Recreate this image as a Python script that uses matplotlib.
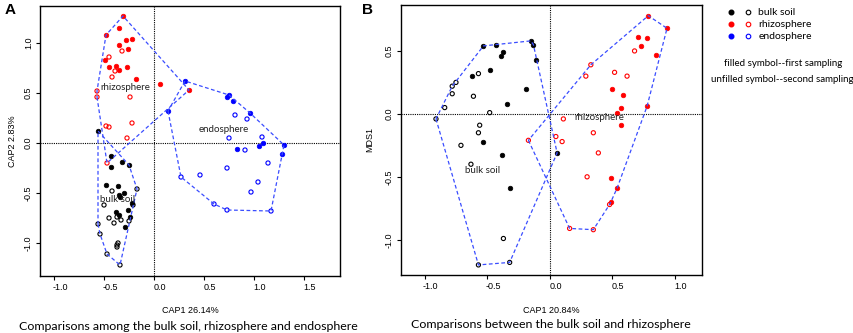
import numpy as np
import matplotlib
matplotlib.use("Agg")
import matplotlib.pyplot as plt
import matplotlib.transforms as mtransforms
from matplotlib.lines import Line2D
from matplotlib.legend_handler import HandlerTuple

# ---- Panel A data (CAP1 vs CAP2) ----
a_bulk_first_x = [-0.56, -0.43, -0.43, -0.32, -0.25, -0.48, -0.36, -0.35, -0.30, -0.34, -0.22, -0.26, -0.38, -0.24, -0.35, -0.29]
a_bulk_first_y = [0.12, -0.13, -0.24, -0.19, -0.22, -0.42, -0.43, -0.52, -0.50, -0.54, -0.60, -0.67, -0.69, -0.74, -0.72, -0.84]
a_bulk_second_x = [-0.17, -0.42, -0.50, -0.21, -0.45, -0.37, -0.33, -0.40, -0.25, -0.56, -0.54, -0.36, -0.37, -0.37, -0.47, -0.34]
a_bulk_second_y = [-0.46, -0.48, -0.62, -0.62, -0.75, -0.74, -0.77, -0.80, -0.78, -0.81, -0.91, -1.00, -1.04, -1.02, -1.11, -1.22]

a_rhizo_first_x = [-0.31, -0.48, -0.35, -0.35, -0.28, -0.22, -0.26, -0.49, -0.38, -0.45, -0.35, -0.27, -0.18, 0.06, 0.35]
a_rhizo_first_y = [1.27, 1.08, 1.15, 0.98, 1.03, 1.04, 0.94, 0.83, 0.77, 0.76, 0.73, 0.76, 0.64, 0.59, 0.53]
a_rhizo_second_x = [-0.32, -0.45, -0.39, -0.42, -0.57, -0.57, -0.24, -0.48, -0.45, -0.22, -0.27, -0.47]
a_rhizo_second_y = [0.92, 0.86, 0.72, 0.66, 0.52, 0.46, 0.46, 0.17, 0.16, 0.20, 0.05, -0.20]

a_endo_first_x = [0.31, 0.14, 0.75, 0.73, 0.79, 0.96, 0.83, 1.05, 1.09, 1.30, 1.28]
a_endo_first_y = [0.62, 0.32, 0.48, 0.46, 0.42, 0.30, -0.06, -0.03, 0.00, -0.02, -0.11]
a_endo_second_x = [0.81, 0.93, 0.75, 1.08, 0.91, 1.14, 0.73, 0.46, 0.27, 1.04, 0.97, 0.60, 0.73, 1.17]
a_endo_second_y = [0.28, 0.24, 0.05, 0.06, -0.07, -0.20, -0.25, -0.32, -0.34, -0.39, -0.49, -0.61, -0.67, -0.68]

# ---- Panel B data (CAP1 vs MDS1) ----
b_bulk_first_x = [-0.53, -0.43, -0.37, -0.39, -0.15, -0.13, -0.11, -0.48, -0.62, -0.19, -0.34, -0.53, -0.38, -0.32, 0.06]
b_bulk_first_y = [0.54, 0.55, 0.49, 0.46, 0.58, 0.55, 0.43, 0.35, 0.30, 0.20, 0.08, -0.22, -0.33, -0.59, -0.31]
b_bulk_second_x = [-0.57, -0.75, -0.78, -0.78, -0.61, -0.84, -0.48, -0.91, -0.56, -0.57, -0.71, -0.63, -0.37, -0.57, -0.32]
b_bulk_second_y = [0.32, 0.25, 0.22, 0.16, 0.14, 0.05, 0.01, -0.04, -0.09, -0.15, -0.25, -0.40, -0.99, -1.20, -1.18]

b_rhizo_first_x = [0.79, 0.94, 0.71, 0.78, 0.73, 0.85, 0.50, 0.59, 0.57, 0.54, 0.78, 0.57, 0.49, 0.54, 0.49]
b_rhizo_first_y = [0.78, 0.68, 0.61, 0.60, 0.54, 0.47, 0.20, 0.15, 0.05, 0.01, 0.06, -0.09, -0.51, -0.59, -0.70]
b_rhizo_second_x = [0.33, 0.68, 0.29, 0.52, 0.62, 0.11, -0.17, 0.05, 0.10, 0.35, 0.39, 0.30, 0.48, 0.16, 0.35]
b_rhizo_second_y = [0.39, 0.50, 0.30, 0.33, 0.30, -0.04, -0.21, -0.18, -0.22, -0.15, -0.31, -0.50, -0.72, -0.91, -0.92]

groups = ["bulk soil", "rhizosphere", "endosphere"]
colors = {"bulk soil": "black", "rhizosphere": "#ff0000", "endosphere": "#0000ff"}
hull_color = "#3a4dff"


def convex_hull(xs, ys):
    pts = sorted(set(zip(xs, ys)))

    def cross(o, a, b):
        return (a[0] - o[0]) * (b[1] - o[1]) - (a[1] - o[1]) * (b[0] - o[0])

    lower, upper = [], []
    for p in pts:
        while len(lower) >= 2 and cross(lower[-2], lower[-1], p) <= 0:
            lower.pop()
        lower.append(p)
    for p in reversed(pts):
        while len(upper) >= 2 and cross(upper[-2], upper[-1], p) <= 0:
            upper.pop()
        upper.append(p)
    hull = lower[:-1] + upper[:-1]
    hull.append(hull[0])
    return np.array(hull)


def draw_group(ax, name, fx, fy, sx, sy):
    c = colors[name]
    ax.scatter(fx, fy, s=11, color=c, edgecolor=c, linewidth=0.5, zorder=3)
    ax.scatter(sx, sy, s=9, facecolor="none", edgecolor=c, linewidth=0.8, zorder=3)
    h = convex_hull(list(fx) + list(sx), list(fy) + list(sy))
    ax.plot(h[:, 0], h[:, 1], color=hull_color, lw=0.9, ls=(0, (3, 2)), zorder=4)


def style_axes(ax, xticks, yticks):
    ax.axhline(0, color="black", lw=0.8, ls=(0, (1, 1)), zorder=1)
    ax.axvline(0, color="black", lw=0.8, ls=(0, (1, 1)), zorder=1)
    ax.set_xticks(xticks)
    ax.set_yticks(yticks)
    ax.set_xticklabels([f"{t:.1f}" for t in xticks], fontsize=6.5, family="Liberation Sans")
    ax.set_yticklabels([f"{t:.1f}" for t in yticks], fontsize=6.5, family="Liberation Sans",
                       rotation=90, va="center")
    ax.tick_params(direction="out", length=3, width=0.8, pad=2)
    for sp in ax.spines.values():
        sp.set_linewidth(1.0)
    # x labels sit a little to the right of their ticks in the original
    off = mtransforms.ScaledTranslation(6 / 100, 0, ax.figure.dpi_scale_trans)
    for lab in ax.get_xticklabels():
        lab.set_transform(lab.get_transform() + off)


fig = plt.figure(figsize=(8.54, 3.33), dpi=100)
label_font = dict(family="Lato", fontsize=7, color="#222222")

# Panel A
axA = fig.add_axes([40 / 854, 1 - 276 / 333, 300 / 854, 270 / 333])
draw_group(axA, "rhizosphere", a_rhizo_first_x, a_rhizo_first_y, a_rhizo_second_x, a_rhizo_second_y)
draw_group(axA, "bulk soil", a_bulk_first_x, a_bulk_first_y, a_bulk_second_x, a_bulk_second_y)
draw_group(axA, "endosphere", a_endo_first_x, a_endo_first_y, a_endo_second_x, a_endo_second_y)
axA.set_xlim(-1.14, 1.86)
axA.set_ylim(-1.33, 1.37)
style_axes(axA, [-1.0, -0.5, 0.0, 0.5, 1.0, 1.5], [-1.0, -0.5, 0.0, 0.5, 1.0])
axA.text(-0.29, 0.55, "rhizosphere", ha="center", va="center", zorder=5, **label_font)
axA.text(0.70, 0.14, "endosphere", ha="center", va="center", zorder=5, **label_font)
axA.text(-0.36, -0.57, "bulk soil", ha="center", va="center", zorder=5, **label_font)
axA.set_xlabel("CAP1 26.14%", fontsize=6.5, family="Liberation Sans", labelpad=10)
axA.set_ylabel("CAP2 2.83%", fontsize=6.5, family="Liberation Sans", labelpad=5)

# Panel B
axB = fig.add_axes([401 / 854, 1 - 275 / 333, 301 / 854, 270 / 333])
draw_group(axB, "bulk soil", b_bulk_first_x, b_bulk_first_y, b_bulk_second_x, b_bulk_second_y)
draw_group(axB, "rhizosphere", b_rhizo_first_x, b_rhizo_first_y, b_rhizo_second_x, b_rhizo_second_y)
axB.set_xlim(-1.19, 1.22)
axB.set_ylim(-1.28, 0.865)
style_axes(axB, [-1.0, -0.5, 0.0, 0.5, 1.0], [-1.0, -0.5, 0.0, 0.5])
axB.text(0.40, -0.03, "rhizosphere", ha="center", va="center", zorder=5, **label_font)
axB.text(-0.54, -0.45, "bulk soil", ha="center", va="center", zorder=5, **label_font)
axB.set_xlabel("CAP1 20.84%", fontsize=6.5, family="Liberation Sans", labelpad=11)
axB.set_ylabel("MDS1", fontsize=6.5, family="Liberation Sans", labelpad=8)

# panel letters and captions
fig.text(5 / 854, 1 - 10 / 333, "A", fontsize=11, weight="bold", family="Liberation Sans", va="center")
fig.text(362 / 854, 1 - 10 / 333, "B", fontsize=11, weight="bold", family="Liberation Sans", va="center")
fig.text(188 / 854, 1 - 326 / 333, "Comparisons among the bulk soil, rhizosphere and endosphere",
         ha="center", va="center", family="Lato", fontsize=8.9)
fig.text(551 / 854, 1 - 324 / 333, "Comparisons between the bulk soil and rhizosphere",
         ha="center", va="center", family="Lato", fontsize=8.9)

# legend
handles = []
for g in groups:
    c = colors[g]
    filled = Line2D([], [], ls="none", marker="o", ms=3.3, color=c)
    hollow = Line2D([], [], ls="none", marker="o", ms=3.3, mfc="none", mec=c, mew=0.8)
    handles.append((filled, hollow))
fig.legend(handles, groups, handler_map={tuple: HandlerTuple(ndivide=None, pad=1.2)},
           loc="upper left", bbox_to_anchor=(724 / 854, 1 - 3 / 333), frameon=False,
           prop=dict(family="Lato", size=7.5), handlelength=2.0, handletextpad=0.8,
           labelspacing=0.25, borderpad=0)
fig.text(783 / 854, 1 - 63 / 333, "filled symbol--first sampling", ha="center", va="center",
         family="Lato", fontsize=7)
fig.text(782 / 854, 1 - 80 / 333, "unfilled symbol--second sampling", ha="center", va="center",
         family="Lato", fontsize=7)

fig.savefig("out.png", dpi=100)
